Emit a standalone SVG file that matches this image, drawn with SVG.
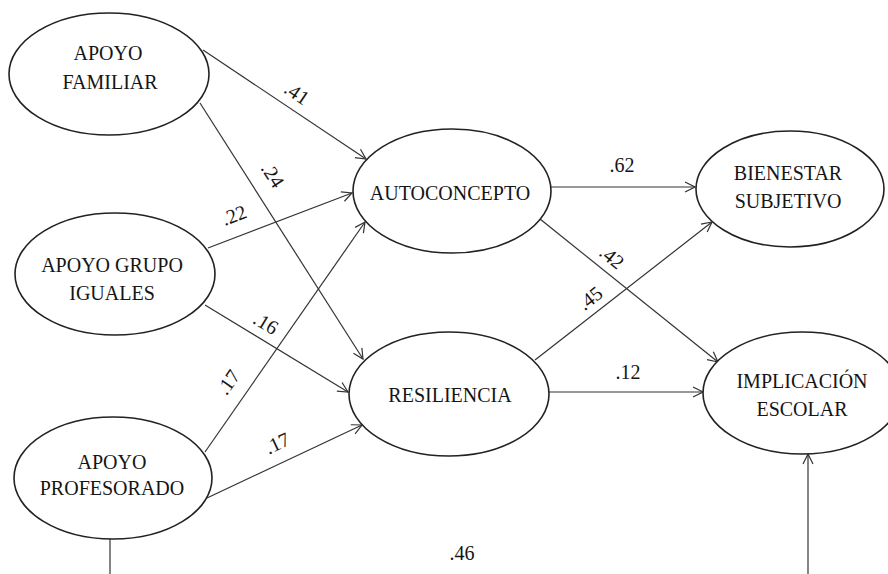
<svg xmlns="http://www.w3.org/2000/svg" width="888" height="574" viewBox="0 0 888 574" font-family="Liberation Serif, serif">
  <style>
    .node { fill: #ffffff; stroke: #222222; stroke-width: 1.6; }
    .t { font-size: 20px; fill: #151515; text-anchor: middle; }
    .edge { stroke: #333333; stroke-width: 1.2; fill: none; }
    .arrow { stroke: #333333; stroke-width: 1.2; fill: none; }
  </style>
  <defs>
    <marker id="open-arrow" viewBox="0 0 12 12" refX="11" refY="6" markerWidth="12" markerHeight="12" markerUnits="userSpaceOnUse" orient="auto">
      <path class="arrow" d="M1,1 L11,6 L1,11"/>
    </marker>
  </defs>
  <rect width="888" height="574" fill="#ffffff"/>

  <!-- path connectors -->
  <g id="connectors">
    <line class="edge" x1="203" y1="50" x2="366" y2="159" marker-end="url(#open-arrow)"/>
    <line class="edge" x1="200" y1="103" x2="363" y2="359" marker-end="url(#open-arrow)"/>
    <line class="edge" x1="208" y1="248" x2="352" y2="193" marker-end="url(#open-arrow)"/>
    <line class="edge" x1="205" y1="305" x2="348" y2="392" marker-end="url(#open-arrow)"/>
    <line class="edge" x1="205" y1="452" x2="365" y2="222" marker-end="url(#open-arrow)"/>
    <line class="edge" x1="207" y1="498" x2="362" y2="425" marker-end="url(#open-arrow)"/>
    <line class="edge" x1="551" y1="187" x2="695" y2="187" marker-end="url(#open-arrow)"/>
    <line class="edge" x1="540" y1="219" x2="718" y2="362" marker-end="url(#open-arrow)"/>
    <line class="edge" x1="535" y1="360" x2="712" y2="222" marker-end="url(#open-arrow)"/>
    <line class="edge" x1="548" y1="392" x2="703" y2="392" marker-end="url(#open-arrow)"/>
    <line class="edge" x1="110" y1="539" x2="110" y2="574"/>
    <line class="edge" x1="808" y1="574" x2="808" y2="454" marker-end="url(#open-arrow)"/>

    <!-- path coefficients -->
    <g>
      <text class="t" font-family="Liberation Serif" transform="translate(297,93) rotate(34)" y="7">.41</text>
      <text class="t" font-family="Liberation Serif" transform="translate(273,175) rotate(57)" y="7">.24</text>
      <text class="t" font-family="Liberation Serif" transform="translate(234,215) rotate(-21)" y="7">.22</text>
      <text class="t" font-family="Liberation Serif" transform="translate(266,323) rotate(31)" y="7">.16</text>
      <text class="t" font-family="Liberation Serif" transform="translate(228,382) rotate(-55)" y="7">.17</text>
      <text class="t" font-family="Liberation Serif" transform="translate(277,443) rotate(-25)" y="7">.17</text>
      <text class="t" font-family="Liberation Serif" x="622" y="172">.62</text>
      <text class="t" font-family="Liberation Serif" transform="translate(612,257) rotate(39)" y="7">.42</text>
      <text class="t" font-family="Liberation Serif" transform="translate(590,298) rotate(-38)" y="7">.45</text>
      <text class="t" font-family="Liberation Serif" x="628" y="379">.12</text>
      <text class="t" font-family="Liberation Serif" x="462" y="560">.46</text>
    </g>
  </g>

  <g id="apoyo-familiar">
    <ellipse class="node" cx="109" cy="74" rx="100" ry="61"/>
    <text class="t" font-family="Liberation Serif" x="108" y="60">APOYO</text>
    <text class="t" font-family="Liberation Serif" x="110" y="89">FAMILIAR</text>
  </g>

  <g id="apoyo-grupo-iguales">
    <ellipse class="node" cx="115" cy="274" rx="100" ry="61"/>
    <text class="t" font-family="Liberation Serif" x="112" y="272">APOYO GRUPO</text>
    <text class="t" font-family="Liberation Serif" x="112" y="300">IGUALES</text>
  </g>

  <g id="apoyo-profesorado">
    <ellipse class="node" cx="113" cy="478" rx="99" ry="61"/>
    <text class="t" font-family="Liberation Serif" x="112" y="469">APOYO</text>
    <text class="t" font-family="Liberation Serif" x="112" y="495">PROFESORADO</text>
  </g>

  <g id="autoconcepto">
    <ellipse class="node" cx="452" cy="191" rx="99" ry="62"/>
    <text class="t" font-family="Liberation Serif" x="450" y="200">AUTOCONCEPTO</text>
  </g>

  <g id="resiliencia">
    <ellipse class="node" cx="449" cy="394" rx="100" ry="62"/>
    <text class="t" font-family="Liberation Serif" x="450" y="402">RESILIENCIA</text>
  </g>

  <g id="bienestar-subjetivo">
    <ellipse class="node" cx="790" cy="189" rx="94" ry="58"/>
    <text class="t" font-family="Liberation Serif" x="788" y="180">BIENESTAR</text>
    <text class="t" font-family="Liberation Serif" x="788" y="208">SUBJETIVO</text>
  </g>

  <g id="implicacion-escolar">
    <ellipse class="node" cx="802" cy="393" rx="99" ry="61"/>
    <text class="t" font-family="Liberation Serif" x="802" y="388">IMPLICACIÓN</text>
    <text class="t" font-family="Liberation Serif" x="802" y="416">ESCOLAR</text>
  </g>
</svg>
